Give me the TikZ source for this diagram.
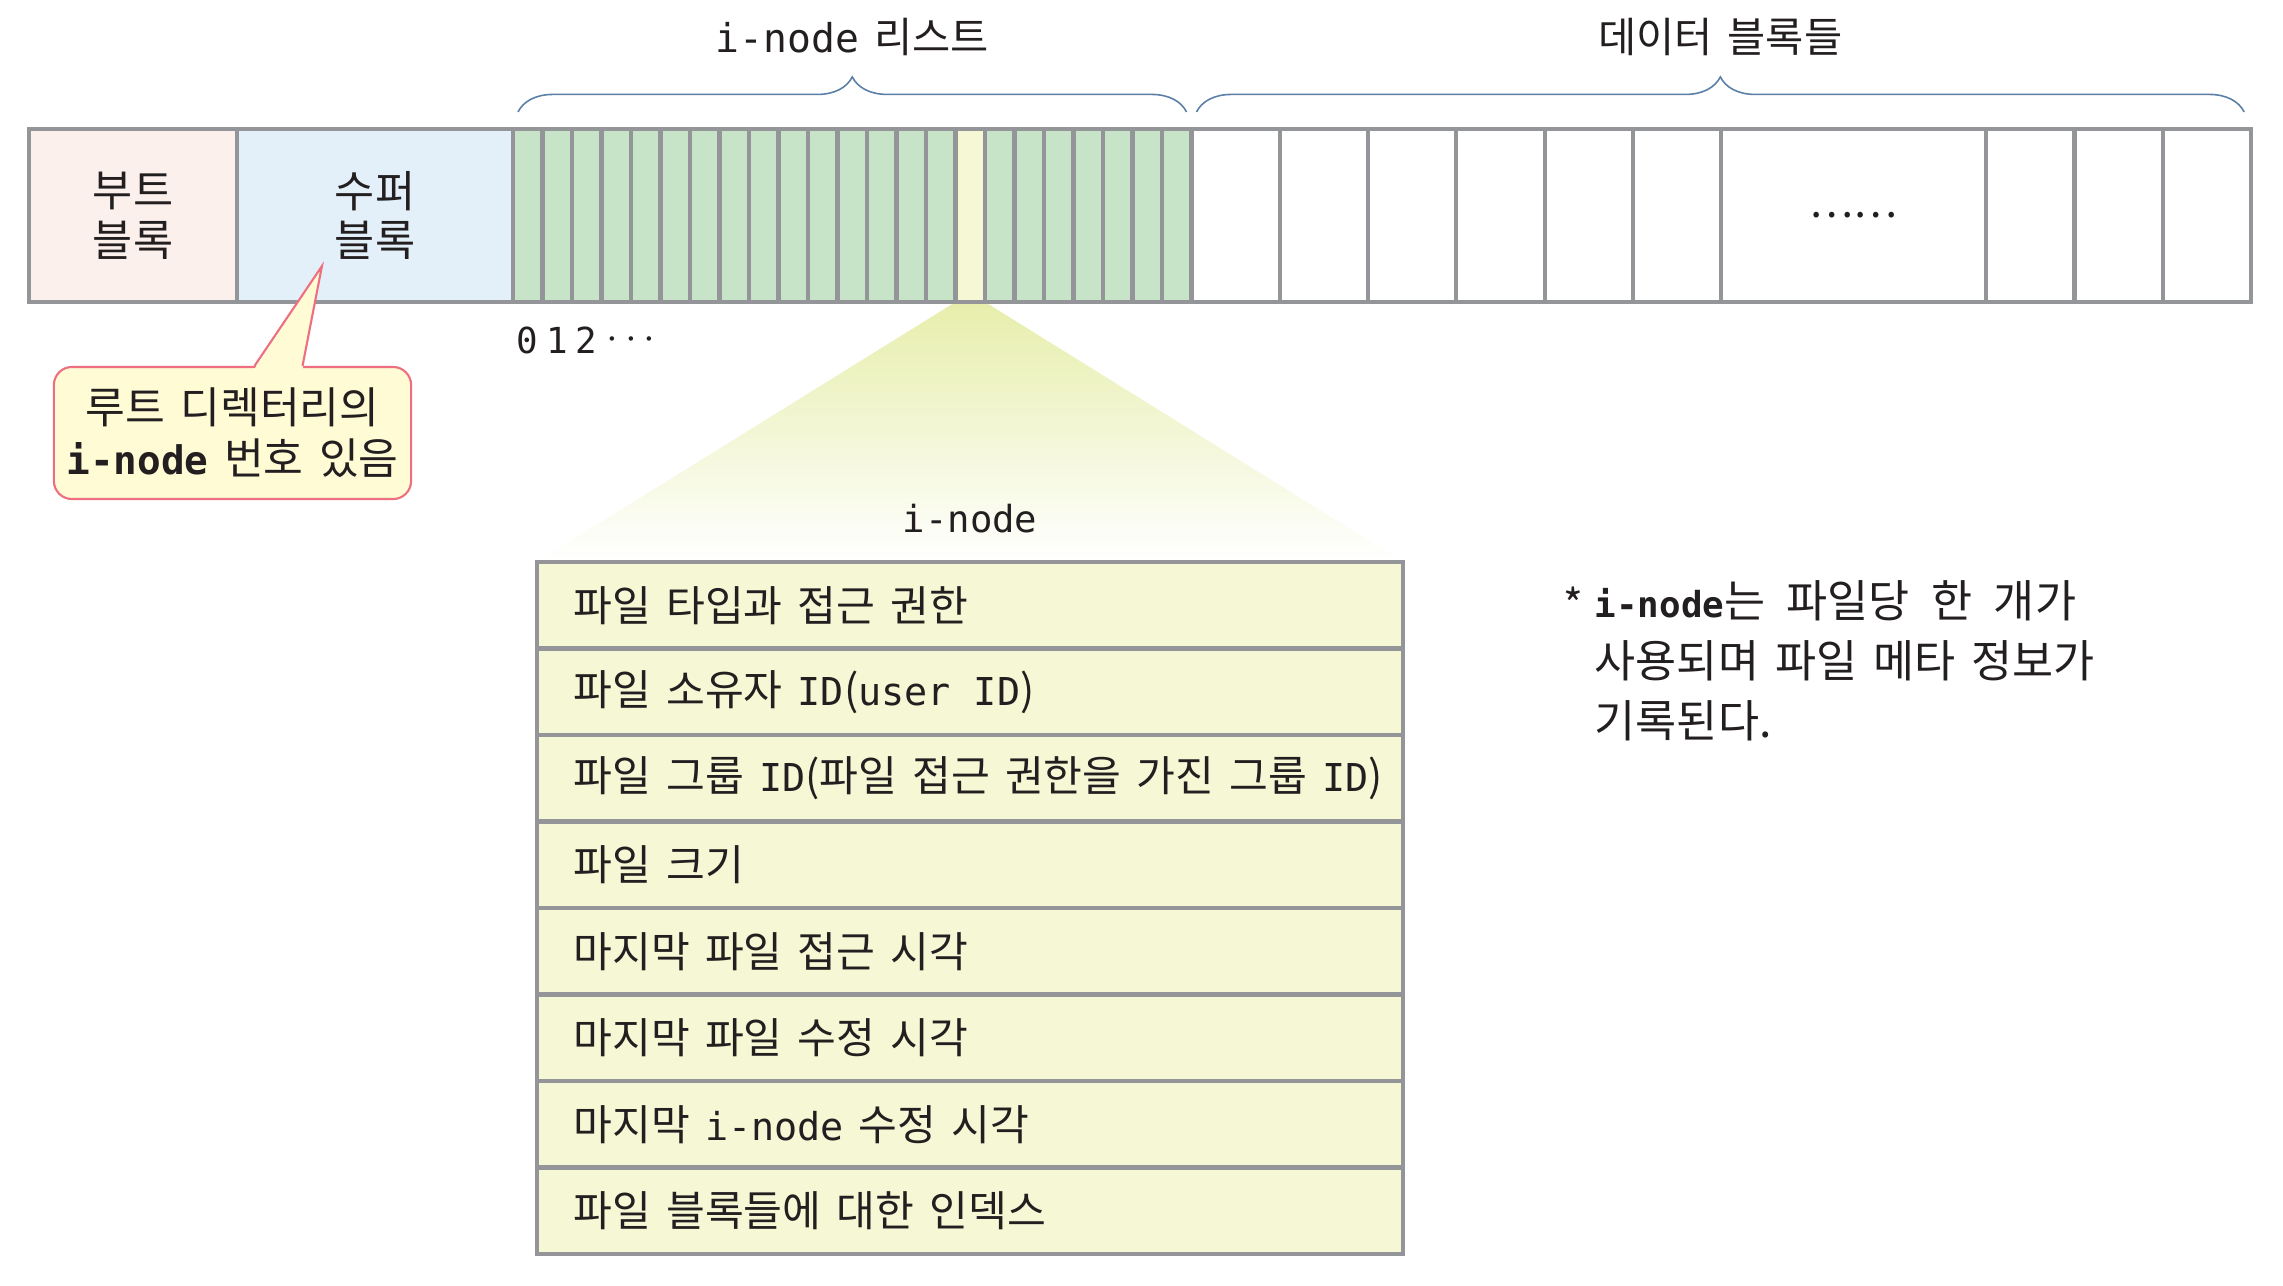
\documentclass[tikz,border=0pt]{standalone}
\usepackage{fontspec}
\setmainfont{Noto Sans CJK KR}[WordSpace=1.6]
\setmonofont{DejaVu Sans Mono}[Scale=0.91]
\usetikzlibrary{positioning}
\usetikzlibrary{backgrounds}
\usetikzlibrary{decorations.pathreplacing}

\definecolor{cellline}{HTML}{939598}
\definecolor{bootfill}{HTML}{FCF0EC}
\definecolor{superfill}{HTML}{E3F0FA}
\definecolor{listfill}{HTML}{C7E4C9}
\definecolor{nodefill}{HTML}{F5F7D5}
\definecolor{conetop}{HTML}{E7EEAC}
\definecolor{tipfill}{HTML}{FFFBD5}
\definecolor{tipline}{HTML}{EE6F80}
\definecolor{bracecol}{HTML}{5B7FA7}
\definecolor{ink}{HTML}{231F20}

\tikzset{
  blk/.style={draw=cellline, line width=1.15pt, inner sep=0pt, outer sep=0pt, minimum height=1.73cm},
  icell/.style={blk, fill=listfill, minimum width=0.295cm},
  dcell/.style={blk, fill=white, minimum width=0.883cm},
  irow/.style={draw=cellline, line width=1.15pt, fill=nodefill, inner sep=0pt, outer sep=0pt, minimum width=8.66cm, minimum height=0.865cm},
  rowtxt/.style={anchor=west, inner sep=0pt, font=\fontsize{12}{14}\selectfont},
  brc/.style={draw=bracecol, line width=0.45pt, decorate, decoration={brace, amplitude=0.35cm}},
  lbl/.style={font=\fontsize{12.4}{14.2}\selectfont, align=center},
  toplbl/.style={font=\fontsize{11.8}{14}\selectfont}
}

\begin{document}
\begin{tikzpicture}[x=0.01cm, y=-0.01cm, text=ink]
\useasboundingbox (0,0) rectangle (2283,1285);

% boot and super block
\node[blk, lbl, fill=bootfill, minimum width=2.08cm] (boot) at (133,215.5) {부트\\블록};
\node[blk, lbl, fill=superfill, minimum width=2.76cm] (super) at (375,215.5) {수퍼\\블록};

% i-node list
\foreach \i in {0,...,22}
  \node[icell] (c\i) at (527.75+29.5*\i,215.5) {};
\node[icell, fill=nodefill] (pick) at (c15) {};

\foreach \i in {0,1,2}
  \node[anchor=base, font=\ttfamily\fontsize{11.2}{12}\selectfont] (n\i) at ([yshift=-0.51cm]c\i.south) {\i};
\node[anchor=base, font=\fontsize{11.5}{12}\selectfont] (ndots) at ([yshift=-0.47cm]c3.south east) {$\cdots$};

% data blocks
\foreach \i in {1,...,6}
  \node[dcell] (d\i) at (1147.35+88.3*\i,215.5) {};
\node[dcell, toplbl, minimum width=2.649cm] (dots) at (1853.8,215.5) {……};
\foreach \i in {7,8,9}
  \node[dcell] (d\i) at (1986.2+88.3*\i-573.95,215.5) {};

% braces
\coordinate (lstL) at ([xshift=0.05cm,yshift=0.17cm]c0.north west);
\coordinate (lstR) at ([xshift=-0.05cm,yshift=0.17cm]c22.north east);
\draw[brc] (lstL) -- (lstR) node[midway, toplbl, yshift=0.75cm] (lstlbl) {{\fontsize{12.4}{14}\selectfont\ttfamily i-node} 리스트};
\coordinate (datL) at ([xshift=0.05cm,yshift=0.17cm]d1.north west);
\coordinate (datR) at ([xshift=-0.07cm,yshift=0.17cm]d9.north east);
\draw[brc] (datL) -- (datR) node[midway, toplbl, yshift=0.75cm] (datlbl) {데이터 블록들};

% callout on the super block
\node[draw=tipline, line width=0.6pt, fill=tipfill, rounded corners=0.18cm, inner sep=0pt,
      minimum width=3.57cm, minimum height=1.32cm, align=center,
      font=\fontsize{12.3}{14.5}\selectfont] (rootnote) at (232.5,433) {루트 디렉터리의\\{\ttfamily\bfseries i-node} 번호 있음};
\coordinate (ptip) at ([xshift=0.85cm,yshift=0.36cm]super.south west);
\fill[tipfill] ([xshift=0.22cm,yshift=-0.03cm]rootnote.north) -- (ptip) -- ([xshift=0.70cm,yshift=-0.03cm]rootnote.north) -- cycle;
\draw[tipline, line width=0.6pt] ([xshift=0.22cm]rootnote.north) -- (ptip) -- ([xshift=0.70cm]rootnote.north);

% the i-node
\node[font=\ttfamily\fontsize{11.65}{12}\selectfont] (ilbl) at (970,519) {i-node};
\foreach \i in {1,...,8}
  \node[irow] (r\i) at (970,518.75+86.5*\i) {};
\node[rowtxt] (t1) at ([xshift=0.36cm]r1.west) {파일 타입과 접근 권한};
\node[rowtxt] (t2) at ([xshift=0.36cm]r2.west) {파일 소유자 \texttt{ID}(\texttt{user ID})};
\node[rowtxt] (t3) at ([xshift=0.36cm]r3.west) {파일 그룹 \texttt{ID}(파일 접근 권한을 가진 그룹 \texttt{ID})};
\node[rowtxt] (t4) at ([xshift=0.36cm]r4.west) {파일 크기};
\node[rowtxt] (t5) at ([xshift=0.36cm]r5.west) {마지막 파일 접근 시각};
\node[rowtxt] (t6) at ([xshift=0.36cm]r6.west) {마지막 파일 수정 시각};
\node[rowtxt] (t7) at ([xshift=0.36cm]r7.west) {마지막 \texttt{i-node} 수정 시각};
\node[rowtxt] (t8) at ([xshift=0.36cm]r8.west) {파일 블록들에 대한 인덱스};

% note
\node[anchor=north west, align=left, inner sep=0pt, font=\fontsize{12.7}{17}\selectfont] (inote) at (1594,580)
  {{\fontsize{11.2}{17}\selectfont\ttfamily\bfseries i-node}{\spaceskip=0.48em 는 파일당 한 개가}\\사용되며 파일 메타 정보가\\기록된다.};
\node[anchor=east, inner sep=0pt, font=\fontsize{12}{14}\selectfont] (star) at (1584,604) {*};

\begin{scope}[on background layer]
\fill[white] (0,0) rectangle (2283,1285);
\shade[top color=conetop, bottom color=white] (pick.south west) -- (pick.south east) -- (r1.north east) -- (r1.north west) -- cycle;
\end{scope}
\end{tikzpicture}
\end{document}
